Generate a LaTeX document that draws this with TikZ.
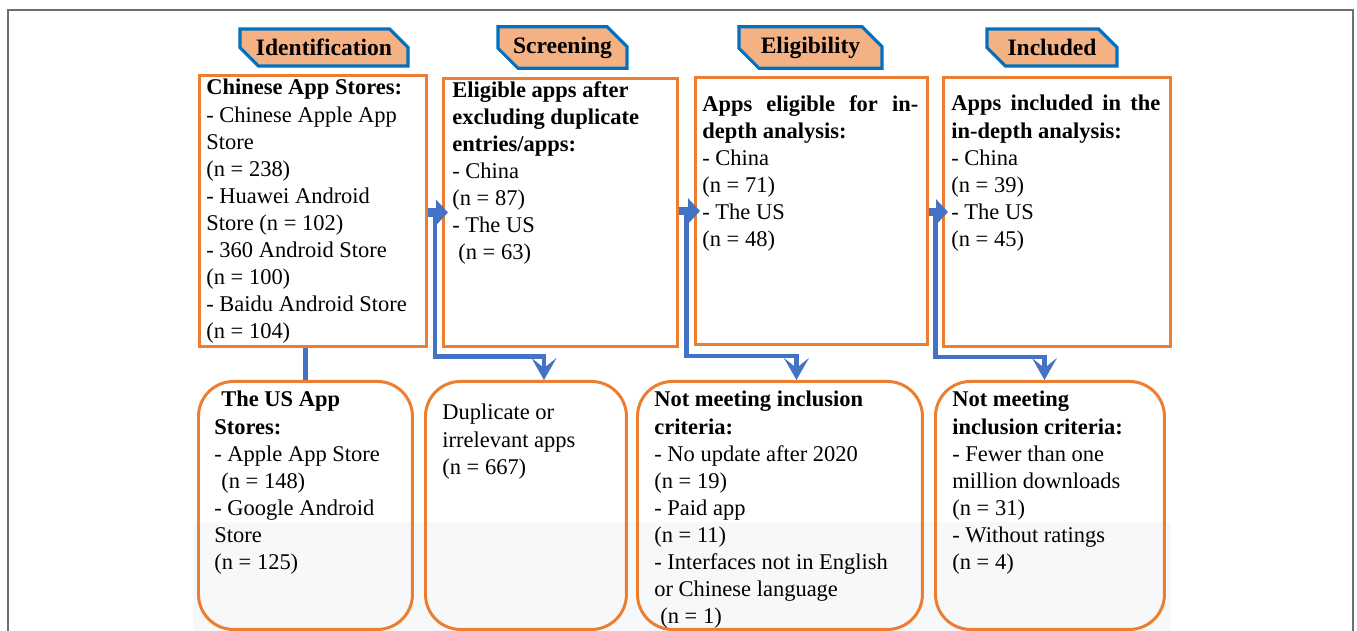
\documentclass[tikz,border=0pt]{standalone}
\usepackage{fontspec}
\setmainfont{Liberation Serif}
\usetikzlibrary{shapes.misc, arrows.meta, positioning, calc}

\definecolor{boxorange}{HTML}{ED7D31}
\definecolor{tabblue}{HTML}{0070C0}
\definecolor{tabfill}{HTML}{F4B183}
\definecolor{flowblue}{HTML}{4472C4}
\definecolor{framegray}{HTML}{6E6E6E}
\definecolor{shadegray}{HTML}{F7F8FA}

\newcommand{\bodyfont}{\fontsize{12.8}{15.4}\selectfont}

\begin{document}
\begin{tikzpicture}[
    x=0.02cm, y=-0.02cm,
    stage/.style={chamfered rectangle, chamfered rectangle corners={north east, south west}, chamfered rectangle sep=2mm, draw=tabblue, fill=tabfill, line width=1.8pt, minimum height=0.74cm, inner sep=0pt, font=\fontsize{13.4}{15}\selectfont\bfseries},
    countbox/.style={rectangle, draw=boxorange, line width=1.7pt, anchor=north west, inner sep=0pt},
    dropbox/.style={rectangle, rounded corners=0.7cm, draw=boxorange, line width=1.7pt, anchor=north west, inner sep=0pt, minimum height=4.96cm},
    boxtext/.style={anchor=north west, inner sep=0pt, align=left, font=\bodyfont},
    pass/.style={-{Triangle[length=2.4mm, width=5mm]}, line width=5pt, draw=flowblue},
    split/.style={-{Stealth[length=4.4mm, width=5mm, inset=2mm]}, line width=2.7pt, draw=flowblue},
    link/.style={line width=2.7pt, draw=flowblue}
  ]

    \useasboundingbox (0,0) rectangle (1357,631);

    % Background
    \fill[shadegray] (193,522) rectangle (1171,631);
    \draw[framegray, line width=0.6pt] (8,631) -- (8,10) -- (1353,10) -- (1353,631);

    % Stages
    \node[stage, minimum width=3.36cm] (tabident) at (324,47.5) {Identification};
    \node[stage, minimum width=2.58cm] (tabscreen) at (562.5,47.5) {Screening};
    \node[stage, minimum width=2.86cm] (tabelig) at (810.5,47.5) {Eligibility};
    \node[stage, minimum width=2.6cm] (tabincl) at (1052,47.5) {Included};

    % Counts
    \node[countbox, minimum width=4.54cm, minimum height=5.42cm] (cnstores) at (198,74) {};
    \node[countbox, minimum width=4.68cm, minimum height=5.36cm] (dedup) at (442,77) {};
    \node[countbox, minimum width=4.64cm, minimum height=5.34cm] (eligible) at (694,76) {};
    \node[countbox, minimum width=4.54cm, minimum height=5.38cm] (included) at (942,76) {};

    \node[boxtext] (cntext) at (206,79) {\textbf{Chinese App Stores:}\\- Chinese Apple App\\Store\\(n = 238)\\- Huawei Android\\Store (n = 102)\\- 360 Android Store\\(n = 100)\\- Baidu Android Store\\(n = 104)};
    \node[boxtext] (deduptext) at (452,81) {\textbf{Eligible apps after}\\\textbf{excluding duplicate}\\\textbf{entries/apps:}\\- China\\(n = 87)\\- The US\\\hspace*{0.12cm}(n = 63)};
    \node[boxtext] (eligtext) at (702,95) {\makebox[4.32cm][s]{\bfseries Apps eligible for in-}\\\textbf{depth analysis:}\\- China\\(n = 71)\\- The US\\(n = 48)};
    \node[boxtext] (incltext) at (951,95) {\makebox[4.18cm][s]{\bfseries Apps included in the}\\\textbf{in-depth analysis:}\\- China\\(n = 39)\\- The US\\(n = 45)};

    % Exclusions
    \node[dropbox, minimum width=4.28cm] (usstores) at (197,380) {};
    \node[dropbox, minimum width=4.02cm] (duplicate) at (424,380) {};
    \node[dropbox, minimum width=5.70cm] (notmet) at (636,380) {};
    \node[dropbox, minimum width=4.58cm] (notmetb) at (934,380) {};

    \node[boxtext] (ustext) at (214,391) {\hspace*{0.14cm}\textbf{The US App}\\\textbf{Stores:}\\- Apple App Store\\\hspace*{0.14cm}(n = 148)\\- Google Android\\Store\\(n = 125)};
    \node[boxtext] (duptext) at (442,404) {Duplicate or\\irrelevant apps\\(n = 667)};
    \node[boxtext] (notmettext) at (654,391) {\textbf{Not meeting inclusion}\\\textbf{criteria:}\\- No update after 2020\\(n = 19)\\- Paid app\\(n = 11)\\- Interfaces not in English\\or Chinese language\\\hspace*{0.12cm}(n = 1)};
    \node[boxtext] (notmetbtext) at (952,391) {\textbf{Not meeting}\\\textbf{inclusion criteria:}\\- Fewer than one\\million downloads\\(n = 31)\\- Without ratings\\(n = 4)};

    % Flows
    \draw[link] (usstores.north |- cnstores.south) -- (usstores.north);
    \draw[split] ($(cnstores.east |- dedup.west)!0.5!(dedup.west)$) -- ++(0,144) -| ([xshift=0.36cm]duplicate.north);
    \draw[split] ($(dedup.east |- eligible.west)!0.5!(eligible.west)$) -- ++(0,145) -| ([xshift=0.33cm]notmet.north);
    \draw[split] ($(eligible.east |- included.west)!0.5!(included.west)$) -- ++(0,145) -| ([xshift=-0.11cm]notmetb.north);
    \draw[pass] (cnstores.east |- dedup.west) -- ([xshift=0.12cm]dedup.west);
    \draw[pass] (dedup.east |- eligible.west) -- ([xshift=0.12cm]eligible.west);
    \draw[pass] (eligible.east |- included.west) -- ([xshift=0.12cm]included.west);

  \end{tikzpicture}
\end{document}
